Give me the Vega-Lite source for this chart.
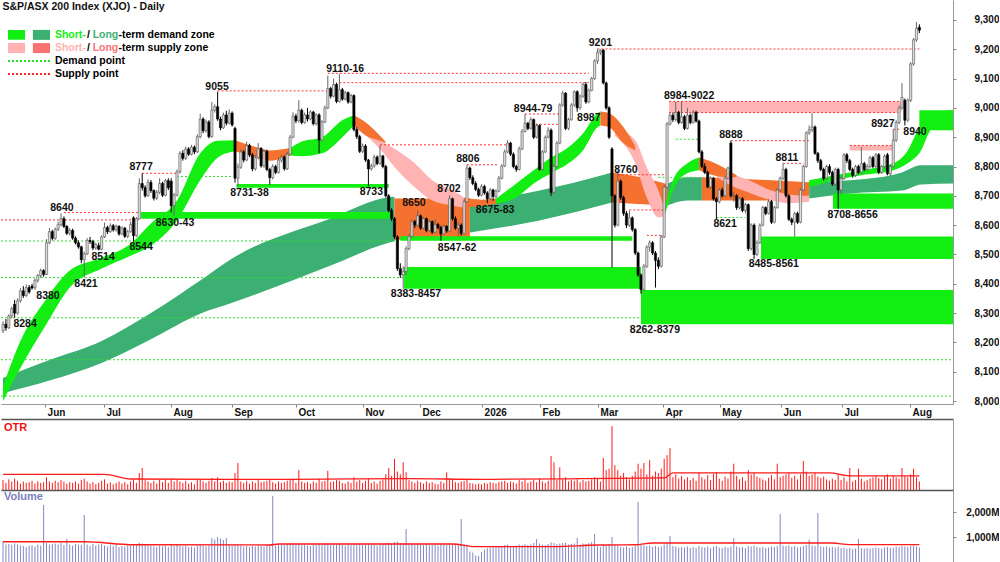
{
  "$schema": "https://vega.github.io/schema/vega-lite/v6.json",
  "padding": 0,
  "autosize": {"type": "pad"},
  "background": "white",
  "config": {
    "font": "Liberation Sans",
    "view": {"stroke": null},
    "scale": {"continuousPadding": 0},
    "axis": {"labelFont": "Liberation Sans", "labelFontWeight": "bold", "labelFontSize": 10, "labelColor": "#111", "grid": false, "title": null, "domainColor": "#888", "tickColor": "#888", "labelOverlap": false, "labelBound": false, "labelFlush": false}
  },
  "datasets": {
    "bars": [
      {"i":0,"o":8240,"h":8272,"l":8232,"c":8262,"r":14,"v":820},
      {"i":1,"o":8262,"h":8280,"l":8240,"c":8250,"r":10,"v":700},
      {"i":2,"o":8250,"h":8296,"l":8246,"c":8290,"r":15,"v":720},
      {"i":3,"o":8290,"h":8322,"l":8282,"c":8315,"r":12,"v":690},
      {"i":4,"o":8330,"h":8345,"l":8284,"c":8300,"r":16,"v":740},
      {"i":5,"o":8300,"h":8350,"l":8295,"c":8342,"r":13,"v":700},
      {"i":6,"o":8342,"h":8385,"l":8336,"c":8376,"r":9,"v":660},
      {"i":7,"o":8376,"h":8392,"l":8352,"c":8360,"r":12,"v":640},
      {"i":8,"o":8360,"h":8398,"l":8355,"c":8387,"r":10,"v":600},
      {"i":9,"o":8387,"h":8396,"l":8366,"c":8372,"r":11,"v":650},
      {"i":10,"o":8392,"h":8400,"l":8380,"c":8386,"r":13,"v":680},
      {"i":11,"o":8386,"h":8418,"l":8380,"c":8412,"r":9,"v":620},
      {"i":12,"o":8412,"h":8434,"l":8404,"c":8428,"r":12,"v":700},
      {"i":13,"o":8428,"h":8452,"l":8420,"c":8445,"r":10,"v":660},
      {"i":14,"o":8445,"h":8450,"l":8424,"c":8432,"r":11,"v":2280},
      {"i":15,"o":8432,"h":8552,"l":8430,"c":8540,"r":18,"v":760},
      {"i":16,"o":8540,"h":8590,"l":8535,"c":8578,"r":12,"v":700},
      {"i":17,"o":8578,"h":8584,"l":8548,"c":8555,"r":10,"v":720},
      {"i":18,"o":8555,"h":8592,"l":8550,"c":8586,"r":13,"v":740},
      {"i":19,"o":8586,"h":8612,"l":8580,"c":8602,"r":11,"v":700},
      {"i":20,"o":8602,"h":8640,"l":8596,"c":8622,"r":14,"v":760},
      {"i":21,"o":8622,"h":8630,"l":8590,"c":8596,"r":12,"v":680},
      {"i":22,"o":8596,"h":8600,"l":8566,"c":8572,"r":9,"v":920},
      {"i":23,"o":8572,"h":8590,"l":8564,"c":8582,"r":11,"v":700},
      {"i":24,"o":8582,"h":8588,"l":8550,"c":8556,"r":10,"v":660},
      {"i":25,"o":8556,"h":8562,"l":8534,"c":8540,"r":12,"v":720},
      {"i":26,"o":8540,"h":8548,"l":8520,"c":8526,"r":9,"v":700},
      {"i":27,"o":8526,"h":8530,"l":8470,"c":8482,"r":14,"v":680},
      {"i":28,"o":8482,"h":8510,"l":8421,"c":8502,"r":16,"v":1880},
      {"i":29,"o":8502,"h":8556,"l":8498,"c":8548,"r":12,"v":700},
      {"i":30,"o":8548,"h":8560,"l":8536,"c":8544,"r":9,"v":640},
      {"i":31,"o":8544,"h":8550,"l":8515,"c":8522,"r":11,"v":720},
      {"i":32,"o":8522,"h":8540,"l":8516,"c":8534,"r":8,"v":660},
      {"i":33,"o":8530,"h":8540,"l":8514,"c":8518,"r":10,"v":700},
      {"i":34,"o":8518,"h":8566,"l":8514,"c":8560,"r":13,"v":720},
      {"i":35,"o":8560,"h":8609,"l":8556,"c":8592,"r":15,"v":660},
      {"i":36,"o":8592,"h":8598,"l":8570,"c":8578,"r":9,"v":620},
      {"i":37,"o":8578,"h":8606,"l":8574,"c":8598,"r":11,"v":700},
      {"i":38,"o":8598,"h":8604,"l":8578,"c":8584,"r":8,"v":640},
      {"i":39,"o":8584,"h":8602,"l":8578,"c":8596,"r":10,"v":680},
      {"i":40,"o":8596,"h":8600,"l":8564,"c":8570,"r":12,"v":600},
      {"i":41,"o":8570,"h":8596,"l":8566,"c":8590,"r":9,"v":640},
      {"i":42,"o":8590,"h":8594,"l":8556,"c":8562,"r":11,"v":620},
      {"i":43,"o":8562,"h":8584,"l":8556,"c":8578,"r":8,"v":660},
      {"i":44,"o":8578,"h":8612,"l":8574,"c":8602,"r":12,"v":640},
      {"i":45,"o":8625,"h":8630,"l":8544,"c":8564,"r":14,"v":700},
      {"i":46,"o":8564,"h":8628,"l":8560,"c":8622,"r":10,"v":680},
      {"i":47,"o":8622,"h":8760,"l":8620,"c":8742,"r":24,"v":760},
      {"i":48,"o":8742,"h":8777,"l":8718,"c":8728,"r":31,"v":740},
      {"i":49,"o":8728,"h":8736,"l":8694,"c":8700,"r":14,"v":700},
      {"i":50,"o":8700,"h":8756,"l":8696,"c":8746,"r":12,"v":660},
      {"i":51,"o":8746,"h":8754,"l":8710,"c":8718,"r":10,"v":640},
      {"i":52,"o":8718,"h":8722,"l":8684,"c":8692,"r":13,"v":620},
      {"i":53,"o":8692,"h":8720,"l":8686,"c":8712,"r":9,"v":600},
      {"i":54,"o":8712,"h":8760,"l":8706,"c":8742,"r":15,"v":640},
      {"i":55,"o":8742,"h":8748,"l":8696,"c":8702,"r":11,"v":620},
      {"i":56,"o":8702,"h":8758,"l":8698,"c":8752,"r":14,"v":660},
      {"i":57,"o":8752,"h":8760,"l":8720,"c":8728,"r":10,"v":600},
      {"i":58,"o":8750,"h":8760,"l":8643,"c":8666,"r":16,"v":680},
      {"i":59,"o":8666,"h":8710,"l":8630,"c":8702,"r":12,"v":640},
      {"i":60,"o":8702,"h":8790,"l":8698,"c":8782,"r":15,"v":700},
      {"i":61,"o":8782,"h":8852,"l":8776,"c":8845,"r":12,"v":660},
      {"i":62,"o":8845,"h":8856,"l":8820,"c":8828,"r":10,"v":620},
      {"i":63,"o":8828,"h":8868,"l":8822,"c":8860,"r":13,"v":640},
      {"i":64,"o":8860,"h":8866,"l":8836,"c":8842,"r":9,"v":600},
      {"i":65,"o":8842,"h":8874,"l":8838,"c":8866,"r":11,"v":620},
      {"i":66,"o":8866,"h":8872,"l":8842,"c":8850,"r":8,"v":580},
      {"i":67,"o":8850,"h":8910,"l":8846,"c":8902,"r":14,"v":640},
      {"i":68,"o":8902,"h":8980,"l":8896,"c":8962,"r":15,"v":680},
      {"i":69,"o":8962,"h":8968,"l":8914,"c":8922,"r":12,"v":640},
      {"i":70,"o":8922,"h":8960,"l":8916,"c":8952,"r":10,"v":620},
      {"i":71,"o":8952,"h":8958,"l":8896,"c":8902,"r":13,"v":660},
      {"i":72,"o":8902,"h":9020,"l":8898,"c":8992,"r":17,"v":960},
      {"i":73,"o":8992,"h":9012,"l":8984,"c":9004,"r":12,"v":900},
      {"i":74,"o":9004,"h":9055,"l":8956,"c":8962,"r":18,"v":1000},
      {"i":75,"o":8962,"h":8970,"l":8924,"c":8932,"r":11,"v":940},
      {"i":76,"o":8932,"h":8984,"l":8928,"c":8976,"r":13,"v":880},
      {"i":77,"o":8976,"h":8990,"l":8940,"c":8948,"r":10,"v":960},
      {"i":78,"o":8948,"h":8995,"l":8944,"c":8982,"r":12,"v":700},
      {"i":79,"o":8982,"h":8988,"l":8936,"c":8942,"r":11,"v":660},
      {"i":80,"o":8930,"h":8936,"l":8745,"c":8760,"r":24,"v":720},
      {"i":81,"o":8760,"h":8810,"l":8731,"c":8798,"r":38,"v":700},
      {"i":82,"o":8798,"h":8858,"l":8792,"c":8850,"r":12,"v":660},
      {"i":83,"o":8850,"h":8856,"l":8814,"c":8822,"r":10,"v":620},
      {"i":84,"o":8822,"h":8885,"l":8818,"c":8872,"r":13,"v":640},
      {"i":85,"o":8872,"h":8878,"l":8832,"c":8840,"r":9,"v":600},
      {"i":86,"o":8840,"h":8846,"l":8784,"c":8792,"r":12,"v":640},
      {"i":87,"o":8792,"h":8838,"l":8786,"c":8830,"r":10,"v":620},
      {"i":88,"o":8830,"h":8880,"l":8824,"c":8862,"r":14,"v":660},
      {"i":89,"o":8862,"h":8866,"l":8796,"c":8802,"r":11,"v":640},
      {"i":90,"o":8802,"h":8858,"l":8796,"c":8852,"r":12,"v":620},
      {"i":91,"o":8852,"h":8858,"l":8784,"c":8790,"r":13,"v":680},
      {"i":92,"o":8790,"h":8796,"l":8738,"c":8762,"r":15,"v":700},
      {"i":93,"o":8762,"h":8808,"l":8756,"c":8800,"r":11,"v":2640},
      {"i":94,"o":8800,"h":8806,"l":8774,"c":8780,"r":9,"v":660},
      {"i":95,"o":8780,"h":8830,"l":8776,"c":8822,"r":12,"v":720},
      {"i":96,"o":8822,"h":8840,"l":8814,"c":8832,"r":10,"v":700},
      {"i":97,"o":8832,"h":8838,"l":8786,"c":8792,"r":11,"v":680},
      {"i":98,"o":8792,"h":8850,"l":8788,"c":8842,"r":13,"v":720},
      {"i":99,"o":8842,"h":8908,"l":8838,"c":8900,"r":14,"v":740},
      {"i":100,"o":8900,"h":8985,"l":8896,"c":8972,"r":16,"v":760},
      {"i":101,"o":8972,"h":8980,"l":8948,"c":8956,"r":10,"v":700},
      {"i":102,"o":8956,"h":9026,"l":8950,"c":8992,"r":28,"v":720},
      {"i":103,"o":8992,"h":8998,"l":8944,"c":8950,"r":12,"v":680},
      {"i":104,"o":8950,"h":8984,"l":8946,"c":8976,"r":10,"v":700},
      {"i":105,"o":8976,"h":9000,"l":8954,"c":8962,"r":11,"v":660},
      {"i":106,"o":8962,"h":8992,"l":8958,"c":8986,"r":9,"v":640},
      {"i":107,"o":8986,"h":8990,"l":8940,"c":8946,"r":12,"v":700},
      {"i":108,"o":8946,"h":8982,"l":8940,"c":8976,"r":10,"v":680},
      {"i":109,"o":8976,"h":8982,"l":8845,"c":8890,"r":16,"v":740},
      {"i":110,"o":8890,"h":8958,"l":8884,"c":8952,"r":12,"v":700},
      {"i":111,"o":8952,"h":9008,"l":8948,"c":9000,"r":13,"v":720},
      {"i":112,"o":9000,"h":9110,"l":8996,"c":9066,"r":27,"v":760},
      {"i":113,"o":9066,"h":9072,"l":9032,"c":9040,"r":11,"v":700},
      {"i":114,"o":9040,"h":9100,"l":9036,"c":9080,"r":12,"v":680},
      {"i":115,"o":9080,"h":9086,"l":9016,"c":9022,"r":14,"v":700},
      {"i":116,"o":9022,"h":9116,"l":9018,"c":9062,"r":13,"v":720},
      {"i":117,"o":9062,"h":9068,"l":9024,"c":9030,"r":10,"v":680},
      {"i":118,"o":9030,"h":9058,"l":9026,"c":9052,"r":9,"v":660},
      {"i":119,"o":9052,"h":9056,"l":9014,"c":9020,"r":12,"v":700},
      {"i":120,"o":9020,"h":9048,"l":9016,"c":9042,"r":10,"v":680},
      {"i":121,"o":9042,"h":9046,"l":8920,"c":8926,"r":18,"v":740},
      {"i":122,"o":8926,"h":8934,"l":8894,"c":8902,"r":12,"v":700},
      {"i":123,"o":8902,"h":8908,"l":8846,"c":8852,"r":14,"v":720},
      {"i":124,"o":8852,"h":8878,"l":8846,"c":8870,"r":10,"v":680},
      {"i":125,"o":8870,"h":8876,"l":8816,"c":8822,"r":13,"v":700},
      {"i":126,"o":8822,"h":8826,"l":8733,"c":8792,"r":16,"v":740},
      {"i":127,"o":8792,"h":8810,"l":8786,"c":8802,"r":10,"v":680},
      {"i":128,"o":8802,"h":8840,"l":8796,"c":8832,"r":12,"v":700},
      {"i":129,"o":8832,"h":8838,"l":8804,"c":8810,"r":9,"v":660},
      {"i":130,"o":8810,"h":8872,"l":8806,"c":8836,"r":13,"v":700},
      {"i":131,"o":8836,"h":8840,"l":8794,"c":8800,"r":15,"v":720},
      {"i":132,"o":8800,"h":8806,"l":8694,"c":8700,"r":22,"v":760},
      {"i":133,"o":8700,"h":8706,"l":8644,"c":8650,"r":31,"v":780},
      {"i":134,"o":8650,"h":8658,"l":8614,"c":8622,"r":20,"v":740},
      {"i":135,"o":8622,"h":8628,"l":8552,"c":8560,"r":44,"v":800},
      {"i":136,"o":8560,"h":8566,"l":8444,"c":8452,"r":26,"v":820},
      {"i":137,"o":8452,"h":8470,"l":8420,"c":8430,"r":22,"v":760},
      {"i":138,"o":8430,"h":8460,"l":8383,"c":8442,"r":39,"v":740},
      {"i":139,"o":8442,"h":8528,"l":8430,"c":8520,"r":25,"v":1320},
      {"i":140,"o":8520,"h":8570,"l":8514,"c":8562,"r":14,"v":760},
      {"i":141,"o":8562,"h":8620,"l":8556,"c":8612,"r":12,"v":720},
      {"i":142,"o":8612,"h":8618,"l":8590,"c":8600,"r":10,"v":700},
      {"i":143,"o":8600,"h":8650,"l":8596,"c":8632,"r":13,"v":740},
      {"i":144,"o":8632,"h":8636,"l":8584,"c":8590,"r":11,"v":700},
      {"i":145,"o":8590,"h":8628,"l":8586,"c":8622,"r":9,"v":680},
      {"i":146,"o":8622,"h":8626,"l":8576,"c":8582,"r":12,"v":720},
      {"i":147,"o":8582,"h":8618,"l":8578,"c":8612,"r":10,"v":700},
      {"i":148,"o":8612,"h":8616,"l":8570,"c":8576,"r":11,"v":680},
      {"i":149,"o":8576,"h":8620,"l":8572,"c":8602,"r":9,"v":700},
      {"i":150,"o":8602,"h":8608,"l":8586,"c":8592,"r":8,"v":660},
      {"i":151,"o":8592,"h":8598,"l":8547,"c":8570,"r":12,"v":720},
      {"i":152,"o":8570,"h":8602,"l":8566,"c":8596,"r":10,"v":700},
      {"i":153,"o":8596,"h":8600,"l":8574,"c":8580,"r":25,"v":680},
      {"i":154,"o":8580,"h":8702,"l":8576,"c":8690,"r":16,"v":740},
      {"i":155,"o":8690,"h":8694,"l":8616,"c":8622,"r":14,"v":720},
      {"i":156,"o":8622,"h":8630,"l":8584,"c":8590,"r":11,"v":700},
      {"i":157,"o":8590,"h":8610,"l":8562,"c":8600,"r":10,"v":680},
      {"i":158,"o":8600,"h":8606,"l":8564,"c":8572,"r":12,"v":1720},
      {"i":159,"o":8572,"h":8688,"l":8568,"c":8680,"r":13,"v":720},
      {"i":160,"o":8680,"h":8806,"l":8676,"c":8795,"r":15,"v":700},
      {"i":161,"o":8795,"h":8800,"l":8754,"c":8762,"r":10,"v":420},
      {"i":162,"o":8762,"h":8770,"l":8736,"c":8742,"r":9,"v":380},
      {"i":163,"o":8742,"h":8750,"l":8716,"c":8722,"r":8,"v":260},
      {"i":164,"o":8722,"h":8728,"l":8696,"c":8702,"r":9,"v":240},
      {"i":165,"o":8702,"h":8740,"l":8698,"c":8732,"r":8,"v":400},
      {"i":166,"o":8732,"h":8738,"l":8704,"c":8710,"r":10,"v":500},
      {"i":167,"o":8710,"h":8716,"l":8675,"c":8690,"r":9,"v":560},
      {"i":168,"o":8690,"h":8726,"l":8686,"c":8720,"r":11,"v":580},
      {"i":169,"o":8720,"h":8724,"l":8683,"c":8698,"r":10,"v":600},
      {"i":170,"o":8698,"h":8722,"l":8692,"c":8716,"r":9,"v":620},
      {"i":171,"o":8716,"h":8768,"l":8712,"c":8760,"r":11,"v":600},
      {"i":172,"o":8760,"h":8808,"l":8756,"c":8802,"r":12,"v":640},
      {"i":173,"o":8802,"h":8858,"l":8798,"c":8850,"r":13,"v":680},
      {"i":174,"o":8850,"h":8890,"l":8846,"c":8880,"r":10,"v":700},
      {"i":175,"o":8880,"h":8884,"l":8836,"c":8842,"r":12,"v":640},
      {"i":176,"o":8842,"h":8848,"l":8794,"c":8800,"r":11,"v":620},
      {"i":177,"o":8800,"h":8806,"l":8782,"c":8790,"r":9,"v":660},
      {"i":178,"o":8790,"h":8868,"l":8786,"c":8860,"r":14,"v":700},
      {"i":179,"o":8860,"h":8928,"l":8856,"c":8920,"r":12,"v":680},
      {"i":180,"o":8920,"h":8979,"l":8916,"c":8948,"r":15,"v":720},
      {"i":181,"o":8948,"h":8952,"l":8924,"c":8930,"r":10,"v":680},
      {"i":182,"o":8930,"h":8968,"l":8926,"c":8960,"r":12,"v":700},
      {"i":183,"o":8960,"h":8964,"l":8894,"c":8900,"r":14,"v":760},
      {"i":184,"o":8900,"h":8946,"l":8896,"c":8940,"r":11,"v":920},
      {"i":185,"o":8940,"h":8944,"l":8786,"c":8790,"r":16,"v":740},
      {"i":186,"o":8790,"h":8856,"l":8786,"c":8850,"r":12,"v":700},
      {"i":187,"o":8850,"h":8906,"l":8846,"c":8900,"r":10,"v":680},
      {"i":188,"o":8900,"h":8934,"l":8896,"c":8924,"r":13,"v":720},
      {"i":189,"o":8924,"h":8930,"l":8700,"c":8712,"r":48,"v":780},
      {"i":190,"o":8712,"h":8806,"l":8706,"c":8800,"r":39,"v":760},
      {"i":191,"o":8800,"h":8886,"l":8796,"c":8880,"r":14,"v":720},
      {"i":192,"o":8880,"h":9016,"l":8876,"c":9010,"r":32,"v":740},
      {"i":193,"o":9010,"h":9058,"l":9004,"c":9050,"r":15,"v":760},
      {"i":194,"o":9050,"h":9054,"l":8924,"c":8930,"r":18,"v":780},
      {"i":195,"o":8930,"h":8966,"l":8924,"c":8960,"r":12,"v":700},
      {"i":196,"o":8960,"h":9016,"l":8956,"c":9010,"r":14,"v":720},
      {"i":197,"o":9010,"h":9060,"l":9004,"c":9055,"r":13,"v":740},
      {"i":198,"o":9055,"h":9060,"l":8987,"c":9000,"r":15,"v":960},
      {"i":199,"o":9000,"h":9046,"l":8994,"c":9040,"r":11,"v":700},
      {"i":200,"o":9040,"h":9086,"l":9034,"c":9080,"r":14,"v":740},
      {"i":201,"o":9080,"h":9088,"l":9014,"c":9020,"r":12,"v":720},
      {"i":202,"o":9020,"h":9066,"l":9016,"c":9060,"r":13,"v":760},
      {"i":203,"o":9060,"h":9106,"l":9056,"c":9100,"r":15,"v":800},
      {"i":204,"o":9100,"h":9166,"l":9096,"c":9160,"r":18,"v":1120},
      {"i":205,"o":9160,"h":9201,"l":9150,"c":9190,"r":16,"v":640},
      {"i":206,"o":9190,"h":9200,"l":9180,"c":9196,"r":12,"v":600},
      {"i":207,"o":9197,"h":9200,"l":9080,"c":9085,"r":45,"v":700},
      {"i":208,"o":9085,"h":9090,"l":8994,"c":9000,"r":28,"v":680},
      {"i":209,"o":9000,"h":9006,"l":8894,"c":8900,"r":30,"v":720},
      {"i":210,"o":8860,"h":8866,"l":8455,"c":8700,"r":90,"v":1000},
      {"i":211,"o":8700,"h":8706,"l":8592,"c":8600,"r":35,"v":700},
      {"i":212,"o":8600,"h":8787,"l":8596,"c":8750,"r":28,"v":660},
      {"i":213,"o":8750,"h":8756,"l":8686,"c":8694,"r":20,"v":600},
      {"i":214,"o":8694,"h":8700,"l":8632,"c":8640,"r":24,"v":580},
      {"i":215,"o":8640,"h":8648,"l":8590,"c":8600,"r":18,"v":620},
      {"i":216,"o":8600,"h":8650,"l":8594,"c":8625,"r":15,"v":560},
      {"i":217,"o":8625,"h":8630,"l":8578,"c":8585,"r":20,"v":600},
      {"i":218,"o":8585,"h":8590,"l":8498,"c":8505,"r":26,"v":640},
      {"i":219,"o":8505,"h":8510,"l":8424,"c":8430,"r":37,"v":2400},
      {"i":220,"o":8430,"h":8436,"l":8366,"c":8380,"r":30,"v":700},
      {"i":221,"o":8380,"h":8468,"l":8376,"c":8460,"r":38,"v":680},
      {"i":222,"o":8460,"h":8532,"l":8454,"c":8525,"r":22,"v":640},
      {"i":223,"o":8525,"h":8548,"l":8510,"c":8540,"r":42,"v":660},
      {"i":224,"o":8540,"h":8546,"l":8498,"c":8505,"r":20,"v":600},
      {"i":225,"o":8505,"h":8512,"l":8387,"c":8480,"r":26,"v":640},
      {"i":226,"o":8480,"h":8490,"l":8450,"c":8460,"r":24,"v":600},
      {"i":227,"o":8460,"h":8566,"l":8455,"c":8560,"r":30,"v":620},
      {"i":228,"o":8560,"h":8736,"l":8556,"c":8730,"r":44,"v":700},
      {"i":229,"o":8730,"h":8952,"l":8726,"c":8945,"r":49,"v":760},
      {"i":230,"o":8945,"h":8982,"l":8940,"c":8975,"r":59,"v":1040},
      {"i":231,"o":8975,"h":8984,"l":8952,"c":8960,"r":18,"v":640},
      {"i":232,"o":8960,"h":9020,"l":8954,"c":8985,"r":22,"v":620},
      {"i":233,"o":8985,"h":8990,"l":8944,"c":8950,"r":16,"v":580},
      {"i":234,"o":8950,"h":9022,"l":8946,"c":8970,"r":20,"v":600},
      {"i":235,"o":8970,"h":8976,"l":8924,"c":8930,"r":15,"v":580},
      {"i":236,"o":8930,"h":9000,"l":8926,"c":8975,"r":18,"v":620},
      {"i":237,"o":8975,"h":8980,"l":8944,"c":8950,"r":14,"v":560},
      {"i":238,"o":8950,"h":8992,"l":8946,"c":8985,"r":17,"v":600},
      {"i":239,"o":8985,"h":8990,"l":8950,"c":8955,"r":13,"v":560},
      {"i":240,"o":8955,"h":8960,"l":8845,"c":8850,"r":24,"v":640},
      {"i":241,"o":8850,"h":8856,"l":8794,"c":8800,"r":18,"v":600},
      {"i":242,"o":8800,"h":8811,"l":8774,"c":8780,"r":15,"v":580},
      {"i":243,"o":8780,"h":8786,"l":8726,"c":8730,"r":21,"v":620},
      {"i":244,"o":8730,"h":8766,"l":8724,"c":8760,"r":14,"v":560},
      {"i":245,"o":8760,"h":8764,"l":8684,"c":8690,"r":23,"v":620},
      {"i":246,"o":8690,"h":8696,"l":8621,"c":8680,"r":25,"v":640},
      {"i":247,"o":8680,"h":8726,"l":8674,"c":8720,"r":16,"v":580},
      {"i":248,"o":8720,"h":8728,"l":8694,"c":8700,"r":13,"v":560},
      {"i":249,"o":8700,"h":8766,"l":8696,"c":8760,"r":19,"v":600},
      {"i":250,"o":8760,"h":8800,"l":8756,"c":8795,"r":16,"v":580},
      {"i":251,"o":8880,"h":8888,"l":8694,"c":8700,"r":26,"v":620},
      {"i":252,"o":8700,"h":8712,"l":8680,"c":8700,"r":37,"v":960},
      {"i":253,"o":8700,"h":8706,"l":8652,"c":8660,"r":20,"v":620},
      {"i":254,"o":8660,"h":8696,"l":8654,"c":8690,"r":15,"v":580},
      {"i":255,"o":8690,"h":8696,"l":8644,"c":8650,"r":18,"v":600},
      {"i":256,"o":8650,"h":8676,"l":8640,"c":8670,"r":13,"v":560},
      {"i":257,"o":8670,"h":8674,"l":8512,"c":8520,"r":28,"v":640},
      {"i":258,"o":8520,"h":8606,"l":8514,"c":8600,"r":22,"v":620},
      {"i":259,"o":8600,"h":8606,"l":8485,"c":8500,"r":24,"v":660},
      {"i":260,"o":8500,"h":8548,"l":8494,"c":8540,"r":19,"v":600},
      {"i":261,"o":8540,"h":8606,"l":8536,"c":8600,"r":17,"v":580},
      {"i":262,"o":8600,"h":8666,"l":8596,"c":8660,"r":15,"v":600},
      {"i":263,"o":8660,"h":8664,"l":8634,"c":8640,"r":13,"v":560},
      {"i":264,"o":8640,"h":8688,"l":8636,"c":8680,"r":17,"v":580},
      {"i":265,"o":8680,"h":8686,"l":8604,"c":8610,"r":21,"v":620},
      {"i":266,"o":8610,"h":8666,"l":8606,"c":8660,"r":15,"v":600},
      {"i":267,"o":8660,"h":8726,"l":8656,"c":8720,"r":37,"v":640},
      {"i":268,"o":8720,"h":8766,"l":8714,"c":8760,"r":18,"v":1920},
      {"i":269,"o":8760,"h":8811,"l":8754,"c":8790,"r":20,"v":660},
      {"i":270,"o":8790,"h":8796,"l":8694,"c":8700,"r":22,"v":640},
      {"i":271,"o":8700,"h":8706,"l":8614,"c":8620,"r":24,"v":660},
      {"i":272,"o":8620,"h":8626,"l":8600,"c":8610,"r":17,"v":600},
      {"i":273,"o":8610,"h":8646,"l":8561,"c":8640,"r":20,"v":640},
      {"i":274,"o":8640,"h":8646,"l":8604,"c":8610,"r":15,"v":580},
      {"i":275,"o":8610,"h":8726,"l":8606,"c":8720,"r":22,"v":600},
      {"i":276,"o":8720,"h":8806,"l":8716,"c":8800,"r":41,"v":640},
      {"i":277,"o":8800,"h":8920,"l":8796,"c":8915,"r":26,"v":680},
      {"i":278,"o":8915,"h":8940,"l":8908,"c":8925,"r":20,"v":900},
      {"i":279,"o":8925,"h":8982,"l":8918,"c":8935,"r":22,"v":660},
      {"i":280,"o":8935,"h":8940,"l":8840,"c":8845,"r":24,"v":640},
      {"i":281,"o":8845,"h":8850,"l":8812,"c":8820,"r":19,"v":1960},
      {"i":282,"o":8820,"h":8826,"l":8784,"c":8790,"r":17,"v":620},
      {"i":283,"o":8790,"h":8796,"l":8752,"c":8760,"r":19,"v":600},
      {"i":284,"o":8760,"h":8806,"l":8754,"c":8800,"r":15,"v":620},
      {"i":285,"o":8800,"h":8808,"l":8772,"c":8780,"r":13,"v":580},
      {"i":286,"o":8780,"h":8786,"l":8734,"c":8740,"r":16,"v":600},
      {"i":287,"o":8740,"h":8796,"l":8734,"c":8790,"r":14,"v":580},
      {"i":288,"o":8790,"h":8796,"l":8656,"c":8720,"r":22,"v":620},
      {"i":289,"o":8720,"h":8766,"l":8706,"c":8760,"r":14,"v":560},
      {"i":290,"o":8760,"h":8846,"l":8754,"c":8840,"r":18,"v":580},
      {"i":291,"o":8840,"h":8846,"l":8812,"c":8820,"r":12,"v":540},
      {"i":292,"o":8820,"h":8826,"l":8784,"c":8790,"r":31,"v":560},
      {"i":293,"o":8790,"h":8796,"l":8762,"c":8770,"r":12,"v":520},
      {"i":294,"o":8770,"h":8806,"l":8764,"c":8800,"r":14,"v":540},
      {"i":295,"o":8800,"h":8806,"l":8774,"c":8780,"r":30,"v":920},
      {"i":296,"o":8780,"h":8866,"l":8776,"c":8810,"r":16,"v":560},
      {"i":297,"o":8810,"h":8816,"l":8784,"c":8790,"r":12,"v":540},
      {"i":298,"o":8790,"h":8808,"l":8784,"c":8800,"r":14,"v":560},
      {"i":299,"o":8800,"h":8836,"l":8794,"c":8830,"r":16,"v":540},
      {"i":300,"o":8830,"h":8836,"l":8794,"c":8800,"r":18,"v":560},
      {"i":301,"o":8800,"h":8846,"l":8794,"c":8840,"r":20,"v":580},
      {"i":302,"o":8840,"h":8846,"l":8774,"c":8780,"r":17,"v":560},
      {"i":303,"o":8780,"h":8806,"l":8774,"c":8800,"r":15,"v":540},
      {"i":304,"o":8800,"h":8842,"l":8794,"c":8835,"r":19,"v":580},
      {"i":305,"o":8840,"h":8846,"l":8770,"c":8775,"r":22,"v":600},
      {"i":306,"o":8775,"h":8806,"l":8768,"c":8800,"r":16,"v":560},
      {"i":307,"o":8800,"h":8927,"l":8796,"c":8890,"r":20,"v":580},
      {"i":308,"o":8890,"h":8958,"l":8884,"c":8950,"r":18,"v":620},
      {"i":309,"o":8950,"h":9008,"l":8944,"c":9000,"r":16,"v":600},
      {"i":310,"o":9000,"h":9084,"l":8994,"c":9036,"r":31,"v":640},
      {"i":311,"o":9026,"h":9032,"l":8940,"c":8958,"r":20,"v":620},
      {"i":312,"o":8958,"h":9032,"l":8952,"c":9026,"r":18,"v":600},
      {"i":313,"o":9026,"h":9156,"l":9020,"c":9150,"r":22,"v":640},
      {"i":314,"o":9150,"h":9238,"l":9144,"c":9232,"r":30,"v":660},
      {"i":315,"o":9232,"h":9293,"l":9226,"c":9272,"r":18,"v":620},
      {"i":316,"o":9275,"h":9285,"l":9255,"c":9265,"r":12,"v":580}
    ],
    "lt": [
      {"s":1,"k":"ld","i":0,"lo":8027,"hi":8079},
      {"s":1,"k":"ld","i":16,"lo":8070,"hi":8140},
      {"s":1,"k":"ld","i":34,"lo":8130,"hi":8205},
      {"s":1,"k":"ld","i":51,"lo":8211,"hi":8300},
      {"s":1,"k":"ld","i":68,"lo":8298,"hi":8411},
      {"s":1,"k":"ld","i":79,"lo":8335,"hi":8486},
      {"s":1,"k":"ld","i":113,"lo":8462,"hi":8623},
      {"s":1,"k":"ld","i":133,"lo":8540,"hi":8695},
      {"s":1,"k":"ld","i":135,"lo":8545,"hi":8697},
      {"s":2,"k":"or","i":135,"lo":8550,"hi":8691},
      {"s":2,"k":"or","i":161,"lo":8550,"hi":8691},
      {"s":3,"k":"ld","i":161,"lo":8575,"hi":8677},
      {"s":3,"k":"ld","i":185,"lo":8616,"hi":8718},
      {"s":3,"k":"ld","i":210,"lo":8677,"hi":8780},
      {"s":4,"k":"or","i":210,"lo":8677,"hi":8780},
      {"s":4,"k":"or","i":219,"lo":8672,"hi":8765},
      {"s":4,"k":"or","i":229,"lo":8667,"hi":8740},
      {"s":5,"k":"ld","i":229,"lo":8667,"hi":8740},
      {"s":5,"k":"ld","i":236,"lo":8684,"hi":8763},
      {"s":5,"k":"ld","i":241,"lo":8684,"hi":8763},
      {"s":6,"k":"or","i":241,"lo":8684,"hi":8763},
      {"s":6,"k":"or","i":265,"lo":8684,"hi":8753},
      {"s":6,"k":"or","i":278,"lo":8691,"hi":8746},
      {"s":7,"k":"ld","i":278,"lo":8691,"hi":8746},
      {"s":7,"k":"ld","i":292,"lo":8708,"hi":8753},
      {"s":7,"k":"ld","i":310,"lo":8718,"hi":8780},
      {"s":7,"k":"ld","i":316.6,"lo":8739,"hi":8804},
      {"s":7,"k":"ld","i":327.6,"lo":8742,"hi":8804}
    ],
    "st": [
      {"s":1,"k":"sd","i":0,"lo":8000,"hi":8050},
      {"s":1,"k":"sd","i":6,"lo":8113,"hi":8205},
      {"s":1,"k":"sd","i":15,"lo":8263,"hi":8349},
      {"s":1,"k":"sd","i":23,"lo":8387,"hi":8445},
      {"s":1,"k":"sd","i":34,"lo":8452,"hi":8489},
      {"s":1,"k":"sd","i":44,"lo":8496,"hi":8537},
      {"s":1,"k":"sd","i":51,"lo":8530,"hi":8606},
      {"s":1,"k":"sd","i":60,"lo":8616,"hi":8684},
      {"s":1,"k":"sd","i":68,"lo":8753,"hi":8845},
      {"s":1,"k":"sd","i":74,"lo":8830,"hi":8888},
      {"s":1,"k":"sd","i":80,"lo":8852,"hi":8890},
      {"s":2,"k":"or","i":80,"lo":8852,"hi":8890},
      {"s":2,"k":"or","i":86,"lo":8835,"hi":8870},
      {"s":2,"k":"or","i":92,"lo":8820,"hi":8855},
      {"s":2,"k":"or","i":97,"lo":8830,"hi":8860},
      {"s":2,"k":"or","i":99,"lo":8838,"hi":8862},
      {"s":3,"k":"sd","i":99,"lo":8838,"hi":8862},
      {"s":3,"k":"sd","i":103,"lo":8835,"hi":8885},
      {"s":3,"k":"sd","i":110,"lo":8845,"hi":8900},
      {"s":3,"k":"sd","i":117,"lo":8900,"hi":8958},
      {"s":3,"k":"sd","i":121,"lo":8941,"hi":8975},
      {"s":4,"k":"ss","i":123,"lo":8925,"hi":8940},
      {"s":4,"k":"ss","i":130,"lo":8860,"hi":8890},
      {"s":4,"k":"ss","i":136,"lo":8787,"hi":8855},
      {"s":4,"k":"ss","i":142,"lo":8729,"hi":8811},
      {"s":4,"k":"ss","i":148,"lo":8684,"hi":8753},
      {"s":4,"k":"ss","i":155,"lo":8667,"hi":8718},
      {"s":4,"k":"ss","i":159,"lo":8660,"hi":8694},
      {"s":4,"k":"ss","i":161,"lo":8668,"hi":8680},
      {"s":5,"k":"or","i":121,"lo":8941,"hi":8975},
      {"s":5,"k":"or","i":125,"lo":8907,"hi":8951},
      {"s":5,"k":"or","i":130,"lo":8888,"hi":8905},
      {"s":5,"k":"or","i":132,"lo":8880,"hi":8884},
      {"s":6,"k":"or","i":159,"lo":8660,"hi":8694},
      {"s":6,"k":"or","i":165,"lo":8665,"hi":8687},
      {"s":6,"k":"or","i":170,"lo":8674,"hi":8690},
      {"s":7,"k":"sd","i":170,"lo":8674,"hi":8690},
      {"s":7,"k":"sd","i":177,"lo":8694,"hi":8742},
      {"s":7,"k":"sd","i":183,"lo":8742,"hi":8787},
      {"s":7,"k":"sd","i":189,"lo":8777,"hi":8831},
      {"s":7,"k":"sd","i":195,"lo":8811,"hi":8866},
      {"s":7,"k":"sd","i":200,"lo":8855,"hi":8913},
      {"s":7,"k":"sd","i":205,"lo":8934,"hi":8982},
      {"s":7,"k":"sd","i":206,"lo":8940,"hi":8988},
      {"s":8,"k":"ss","i":211,"lo":8905,"hi":8930},
      {"s":8,"k":"ss","i":218,"lo":8811,"hi":8890},
      {"s":8,"k":"ss","i":222,"lo":8694,"hi":8797},
      {"s":8,"k":"ss","i":226,"lo":8626,"hi":8718},
      {"s":8,"k":"ss","i":228,"lo":8630,"hi":8660},
      {"s":9,"k":"or","i":206,"lo":8940,"hi":8988},
      {"s":9,"k":"or","i":209,"lo":8934,"hi":8982},
      {"s":9,"k":"or","i":214,"lo":8879,"hi":8934},
      {"s":9,"k":"or","i":218,"lo":8855,"hi":8870},
      {"s":10,"k":"sd","i":228,"lo":8630,"hi":8660},
      {"s":10,"k":"sd","i":230,"lo":8690,"hi":8720},
      {"s":10,"k":"sd","i":231,"lo":8718,"hi":8753},
      {"s":10,"k":"sd","i":236,"lo":8777,"hi":8811},
      {"s":10,"k":"sd","i":240,"lo":8787,"hi":8831},
      {"s":11,"k":"ss","i":244,"lo":8780,"hi":8800},
      {"s":11,"k":"ss","i":251,"lo":8735,"hi":8775},
      {"s":11,"k":"ss","i":258,"lo":8708,"hi":8750},
      {"s":11,"k":"ss","i":265,"lo":8684,"hi":8718},
      {"s":11,"k":"ss","i":271,"lo":8675,"hi":8705},
      {"s":11,"k":"ss","i":278,"lo":8680,"hi":8700},
      {"s":12,"k":"or","i":240,"lo":8787,"hi":8831},
      {"s":12,"k":"or","i":245,"lo":8770,"hi":8814},
      {"s":12,"k":"or","i":251,"lo":8763,"hi":8782},
      {"s":12,"k":"or","i":253,"lo":8765,"hi":8770},
      {"s":13,"k":"sd","i":278,"lo":8729,"hi":8753},
      {"s":13,"k":"sd","i":287,"lo":8753,"hi":8770},
      {"s":13,"k":"sd","i":296,"lo":8770,"hi":8787},
      {"s":13,"k":"sd","i":307,"lo":8787,"hi":8811},
      {"s":13,"k":"sd","i":312,"lo":8811,"hi":8855},
      {"s":13,"k":"sd","i":316,"lo":8845,"hi":8934},
      {"s":13,"k":"sd","i":321,"lo":8934,"hi":8985},
      {"s":13,"k":"sd","i":327.6,"lo":8924,"hi":8992}
    ],
    "zones": [
      {"i0":47.6,"i1":133.8,"lo":8622,"hi":8645,"k":"sd"},
      {"i0":80.5,"i1":133,"lo":8728,"hi":8740,"k":"sd"},
      {"i0":137,"i1":217,"lo":8547,"hi":8562,"k":"sd"},
      {"i0":138.3,"i1":220,"lo":8383,"hi":8457,"k":"sd"},
      {"i0":220,"i1":327.6,"lo":8262,"hi":8379,"k":"sd"},
      {"i0":261.4,"i1":327.6,"lo":8485,"hi":8561,"k":"sd"},
      {"i0":286.2,"i1":327.6,"lo":8656,"hi":8708,"k":"sd"},
      {"i0":316,"i1":327.6,"lo":8924,"hi":8992,"k":"sd"},
      {"i0":229.7,"i1":309.7,"lo":8984,"hi":9022,"k":"ss"},
      {"i0":292,"i1":307,"lo":8855,"hi":8872,"k":"ss"}
    ],
    "pts": [
      {"i0":-0.7,"i1":47,"v":8618,"k":"s"},
      {"i0":21,"i1":47,"v":8643,"k":"s"},
      {"i0":48,"i1":60,"v":8777,"k":"s"},
      {"i0":74,"i1":112,"v":9058,"k":"s"},
      {"i0":112,"i1":202,"v":9118,"k":"s"},
      {"i0":116,"i1":202,"v":9086,"k":"s"},
      {"i0":130,"i1":175,"v":8874,"k":"s"},
      {"i0":160,"i1":171,"v":8806,"k":"s"},
      {"i0":180,"i1":192,"v":8979,"k":"s"},
      {"i0":181,"i1":192,"v":8944,"k":"s"},
      {"i0":205,"i1":316,"v":9201,"k":"s"},
      {"i0":212,"i1":229,"v":8772,"k":"s"},
      {"i0":216,"i1":228,"v":8652,"k":"s"},
      {"i0":222,"i1":228,"v":8565,"k":"s"},
      {"i0":251,"i1":278,"v":8888,"k":"s"},
      {"i0":269,"i1":276,"v":8811,"k":"s"},
      {"i0":229.7,"i1":309.7,"v":9022,"k":"s"},
      {"i0":229.7,"i1":309.7,"v":8984,"k":"s"},
      {"i0":292,"i1":307,"v":8872,"k":"s"},
      {"i0":307,"i1":309,"v":8927,"k":"s"},
      {"i0":-0.7,"i1":327.6,"v":8017,"k":"d"},
      {"i0":-0.7,"i1":327.6,"v":8141,"k":"d"},
      {"i0":-0.7,"i1":220,"v":8284,"k":"d"},
      {"i0":-0.7,"i1":139,"v":8421,"k":"d"},
      {"i0":-0.7,"i1":137,"v":8546,"k":"d"},
      {"i0":60,"i1":79,"v":8766,"k":"d"},
      {"i0":70,"i1":79,"v":8862,"k":"d"},
      {"i0":226,"i1":240,"v":8763,"k":"d"},
      {"i0":232,"i1":240,"v":8893,"k":"d"},
      {"i0":246,"i1":256,"v":8626,"k":"d"}
    ],
    "lbl": [
      {"i":7.6,"v":8263,"t":"8284"},
      {"i":15.5,"v":8359,"t":"8380"},
      {"i":20.3,"v":8657,"t":"8640"},
      {"i":28.6,"v":8400,"t":"8421"},
      {"i":34.5,"v":8493,"t":"8514"},
      {"i":47.6,"v":8524,"t":"8544"},
      {"i":47.6,"v":8797,"t":"8777"},
      {"i":59.3,"v":8606,"t":"8630-43"},
      {"i":73.8,"v":9071,"t":"9055"},
      {"i":85,"v":8708,"t":"8731-38"},
      {"i":118,"v":9132,"t":"9110-16"},
      {"i":127,"v":8712,"t":"8733"},
      {"i":141.7,"v":8674,"t":"8650"},
      {"i":142.4,"v":8366,"t":"8383-8457"},
      {"i":153.8,"v":8725,"t":"8702"},
      {"i":156.6,"v":8523,"t":"8547-62"},
      {"i":160.3,"v":8824,"t":"8806"},
      {"i":169.7,"v":8653,"t":"8675-83"},
      {"i":182.8,"v":8995,"t":"8944-79"},
      {"i":202,"v":8965,"t":"8987"},
      {"i":206,"v":9221,"t":"9201"},
      {"i":214.8,"v":8787,"t":"8760"},
      {"i":224.8,"v":8243,"t":"8262-8379"},
      {"i":236.6,"v":9040,"t":"8984-9022"},
      {"i":251,"v":8907,"t":"8888"},
      {"i":249,"v":8605,"t":"8621"},
      {"i":270.3,"v":8828,"t":"8811"},
      {"i":265.8,"v":8469,"t":"8485-8561"},
      {"i":293,"v":8636,"t":"8708-8656"},
      {"i":303.4,"v":8944,"t":"8927"},
      {"i":314.5,"v":8917,"t":"8940"}
    ],
    "legbox": [
      {"i0":1.7,"i1":7.6,"lo":9232,"hi":9266,"k":"sd"},
      {"i0":10.3,"i1":16.2,"lo":9232,"hi":9266,"k":"ld"},
      {"i0":1.7,"i1":7.6,"lo":9187,"hi":9221,"k":"ss"},
      {"i0":10.3,"i1":16.2,"lo":9187,"hi":9221,"k":"ls"}
    ],
    "legln": [
      {"i0":1.7,"i1":16.2,"v":9160,"k":"d"},
      {"i0":1.7,"i1":16.2,"v":9116,"k":"s"}
    ],
    "legtx": [
      {"i":17.9,"v":9249,"t":"Short-","k":"sd"},
      {"i":29.0,"v":9249,"t":"/","k":"tx"},
      {"i":30.9,"v":9249,"t":"Long","k":"ld"},
      {"i":39.8,"v":9249,"t":"-term demand zone","k":"tx"},
      {"i":17.9,"v":9204,"t":"Short-","k":"ss"},
      {"i":29.0,"v":9204,"t":"/","k":"tx"},
      {"i":30.9,"v":9204,"t":"Long","k":"ls"},
      {"i":39.8,"v":9204,"t":"-term supply zone","k":"tx"},
      {"i":17.9,"v":9160,"t":"Demand point","k":"tx"},
      {"i":17.9,"v":9116,"t":"Supply point","k":"tx"}
    ],
    "otrma": [
      {"i":0,"m":22},{"i":35,"m":22},{"i":44,"m":15.5},{"i":100,"m":15},{"i":140,"m":16},
      {"i":165,"m":15},{"i":200,"m":16},{"i":228,"m":17},{"i":231,"m":24},{"i":285,"m":24},
      {"i":292,"m":20},{"i":316,"m":20}
    ],
    "volma": [
      {"i":0,"m":810},{"i":28,"m":810},{"i":45,"m":690},{"i":92,"m":680},{"i":95,"m":720},
      {"i":155,"m":720},{"i":163,"m":615},{"i":190,"m":615},{"i":205,"m":680},{"i":218,"m":690},
      {"i":224,"m":760},{"i":286,"m":760},{"i":292,"m":695},{"i":316,"m":695}
    ]
  },
  "bounds": "flush",
  "spacing": 15,
  "resolve": {"scale": {"x": "independent", "y": "independent", "color": "independent"}},
  "vconcat": [
    {
      "width": 952,
      "height": 404,
      "layer": [
        {
          "data": {"name": "lt"},
          "mark": {"type": "area", "interpolate": "monotone"},
          "encoding": {
            "x": {"field": "i", "type": "quantitative", "scale": {"domain": [-0.7, 327.6], "nice": false, "zero": false, "padding": 0},
              "axis": {"orient": "bottom", "values": [14.5, 34.8, 57.9, 79, 101, 124.1, 143.8, 165.2, 185.2, 205.2, 227.6, 247.2, 268.3, 289.3, 312.8],
                "labelExpr": "['Jun','Jul','Aug','Sep','Oct','Nov','Dec','2026','Feb','Mar','Apr','May','Jun','Jul','Aug'][indexof([14.5,34.8,57.9,79,101,124.1,143.8,165.2,185.2,205.2,227.6,247.2,268.3,289.3,312.8], datum.value)]",
                "labelAlign": "left", "labelBaseline": "top", "labelOffset": 2, "labelPadding": 0, "tickSize": 3, "domainColor": "#999"}},
            "y": {"field": "lo", "type": "quantitative", "scale": {"domain": [7990, 9368], "nice": false, "zero": false, "padding": 0},
              "axis": {"orient": "right", "values": [8000, 8100, 8200, 8300, 8400, 8500, 8600, 8700, 8800, 8900, 9000, 9100, 9200, 9300], "tickCount": 14, "format": ",.0f", "labelAlign": "right", "labelPadding": 43, "tickSize": 3, "domainColor": "#999"}},
            "y2": {"field": "hi"},
            "detail": {"field": "s"},
            "color": {"field": "k", "type": "nominal", "scale": {"domain": ["sd", "ld", "ss", "ls", "or", "tx"], "range": ["#12ee12", "#3caf72", "#ffb3b3", "#f87272", "#f4712f", "#000000"]}, "legend": null}
          }
        },
        {
          "data": {"name": "zones"},
          "mark": {"type": "rect"},
          "encoding": {
            "x": {"field": "i0", "type": "quantitative"},
            "x2": {"field": "i1"},
            "y": {"field": "lo", "type": "quantitative"},
            "y2": {"field": "hi"},
            "color": {"field": "k", "type": "nominal", "scale": {"domain": ["sd", "ld", "ss", "ls", "or", "tx"], "range": ["#12ee12", "#3caf72", "#ffb3b3", "#f87272", "#f4712f", "#000000"]}, "legend": null}
          }
        },
        {
          "data": {"name": "st"},
          "transform": [{"filter": "datum.k == 'ss'"}],
          "mark": {"type": "area", "interpolate": "monotone"},
          "encoding": {
            "x": {"field": "i", "type": "quantitative"},
            "y": {"field": "lo", "type": "quantitative"},
            "y2": {"field": "hi"},
            "detail": {"field": "s"},
            "color": {"field": "k", "type": "nominal", "scale": {"domain": ["sd", "ld", "ss", "ls", "or", "tx"], "range": ["#12ee12", "#3caf72", "#ffb3b3", "#f87272", "#f4712f", "#000000"]}, "legend": null}
          }
        },
        {
          "data": {"name": "st"},
          "transform": [{"filter": "datum.k != 'ss'"}],
          "mark": {"type": "area", "interpolate": "monotone"},
          "encoding": {
            "x": {"field": "i", "type": "quantitative"},
            "y": {"field": "lo", "type": "quantitative"},
            "y2": {"field": "hi"},
            "detail": {"field": "s"},
            "color": {"field": "k", "type": "nominal", "scale": {"domain": ["sd", "ld", "ss", "ls", "or", "tx"], "range": ["#12ee12", "#3caf72", "#ffb3b3", "#f87272", "#f4712f", "#000000"]}, "legend": null}
          }
        },
        {
          "data": {"name": "pts"},
          "mark": {"type": "rule", "strokeWidth": 1, "strokeDash": [2, 2]},
          "encoding": {
            "x": {"field": "i0", "type": "quantitative"},
            "x2": {"field": "i1"},
            "y": {"field": "v", "type": "quantitative"},
            "color": {"condition": {"test": "datum.k == 's'", "value": "#ff3030"}, "value": "#33dd33"}
          }
        },
        {
          "data": {"name": "bars"},
          "mark": {"type": "rule", "strokeWidth": 1},
          "encoding": {
            "x": {"field": "i", "type": "quantitative"},
            "y": {"field": "l", "type": "quantitative"},
            "y2": {"field": "h"},
            "color": {"condition": {"test": "datum.c < datum.o", "value": "#000000"}, "value": "#666666"}
          }
        },
        {
          "data": {"name": "bars"},
          "mark": {"type": "bar", "size": 2.2, "strokeWidth": 0.6},
          "encoding": {
            "x": {"field": "i", "type": "quantitative"},
            "y": {"field": "o", "type": "quantitative"},
            "y2": {"field": "c"},
            "fill": {"condition": {"test": "datum.c < datum.o", "value": "#000000"}, "value": "#dddddd"},
            "stroke": {"condition": {"test": "datum.c < datum.o", "value": "#000000"}, "value": "#555555"}
          }
        },
        {
          "data": {"name": "lbl"},
          "mark": {"type": "text", "font": "Liberation Sans", "fontWeight": "bold", "fontSize": 10.5, "color": "#111111", "align": "center", "baseline": "middle"},
          "encoding": {
            "x": {"field": "i", "type": "quantitative"},
            "y": {"field": "v", "type": "quantitative"},
            "text": {"field": "t"}
          }
        },
        {
          "data": {"name": "legbox"},
          "mark": {"type": "rect"},
          "encoding": {
            "x": {"field": "i0", "type": "quantitative"},
            "x2": {"field": "i1"},
            "y": {"field": "lo", "type": "quantitative"},
            "y2": {"field": "hi"},
            "color": {"field": "k", "type": "nominal", "scale": {"domain": ["sd", "ld", "ss", "ls", "or", "tx"], "range": ["#12ee12", "#3caf72", "#ffb3b3", "#f87272", "#f4712f", "#000000"]}, "legend": null}
          }
        },
        {
          "data": {"name": "legln"},
          "mark": {"type": "rule", "strokeWidth": 2, "strokeDash": [2, 2]},
          "encoding": {
            "x": {"field": "i0", "type": "quantitative"},
            "x2": {"field": "i1"},
            "y": {"field": "v", "type": "quantitative"},
            "color": {"condition": {"test": "datum.k == 's'", "value": "#ff2020"}, "value": "#22dd22"}
          }
        },
        {
          "data": {"name": "legtx"},
          "mark": {"type": "text", "font": "Liberation Sans", "fontWeight": "bold", "fontSize": 10.5, "align": "left", "baseline": "middle"},
          "encoding": {
            "x": {"field": "i", "type": "quantitative"},
            "y": {"field": "v", "type": "quantitative"},
            "text": {"field": "t"},
            "color": {"field": "k", "type": "nominal", "scale": {"domain": ["sd", "ld", "ss", "ls", "or", "tx"], "range": ["#2ce02c", "#3cb878", "#ffb0b0", "#f86868", "#f4712f", "#000000"]}, "legend": null}
          }
        },
        {
          "data": {"values": [{}]},
          "mark": {"type": "text", "text": "S&P/ASX 200 Index (XJO) - Daily", "font": "Liberation Sans", "fontWeight": "bold", "fontSize": 10.5, "color": "#111111", "align": "left", "baseline": "middle"},
          "encoding": {
            "x": {"datum": -0.2},
            "y": {"datum": 9345}
          }
        }
      ]
    },
    {
      "bounds": "flush",
      "spacing": 0,
      "resolve": {"scale": {"x": "independent", "y": "independent"}},
      "vconcat": [
        {
          "width": 952,
          "height": 71,
          "layer": [
            {
              "data": {"name": "bars"},
              "mark": {"type": "rule", "strokeWidth": 1, "color": "#ff1a1a"},
              "encoding": {
                "x": {"field": "i", "type": "quantitative", "scale": {"domain": [-0.7, 327.6], "nice": false, "zero": false, "padding": 0},
                  "axis": {"orient": "top", "labels": false, "ticks": false, "domainColor": "#555", "domainWidth": 1.5}},
                "y": {"field": "r", "type": "quantitative", "scale": {"domain": [0, 100], "nice": false, "padding": 0},
                  "axis": {"orient": "right", "labels": false, "ticks": false, "domainColor": "#999"}},
                "y2": {"datum": 0}
              }
            },
            {
              "data": {"name": "otrma"},
              "mark": {"type": "line", "color": "#ff1a1a", "strokeWidth": 1.3, "interpolate": "monotone"},
              "encoding": {
                "x": {"field": "i", "type": "quantitative"},
                "y": {"field": "m", "type": "quantitative"}
              }
            },
            {
              "data": {"values": [{}]},
              "mark": {"type": "text", "text": "OTR", "font": "Liberation Sans", "fontWeight": "bold", "fontSize": 11, "color": "#ee1111", "align": "left", "baseline": "middle"},
              "encoding": {
                "x": {"datum": 0.3},
                "y": {"datum": 87}
              }
            }
          ]
        },
        {
          "width": 952,
          "height": 72,
          "layer": [
            {
              "data": {"name": "bars"},
              "mark": {"type": "rule", "strokeWidth": 1, "color": "#8686c6"},
              "encoding": {
                "x": {"field": "i", "type": "quantitative", "scale": {"domain": [-0.7, 327.6], "nice": false, "zero": false, "padding": 0},
                  "axis": {"orient": "top", "labels": false, "ticks": false, "domainColor": "#555", "domainWidth": 1.5}},
                "y": {"field": "v", "type": "quantitative", "scale": {"domain": [0, 2880], "nice": false, "padding": 0},
                  "axis": {"orient": "right", "values": [1000, 2000], "labelExpr": "format(datum.value, ',') + 'M'", "labelAlign": "right", "labelPadding": 43, "tickSize": 3, "domainColor": "#999"}},
                "y2": {"datum": 0}
              }
            },
            {
              "data": {"name": "volma"},
              "mark": {"type": "line", "color": "#ff1a1a", "strokeWidth": 1.3, "interpolate": "monotone"},
              "encoding": {
                "x": {"field": "i", "type": "quantitative"},
                "y": {"field": "m", "type": "quantitative"}
              }
            },
            {
              "data": {"values": [{}]},
              "mark": {"type": "text", "text": "Volume", "font": "Liberation Sans", "fontWeight": "bold", "fontSize": 11, "color": "#7d7dbd", "align": "left", "baseline": "middle"},
              "encoding": {
                "x": {"datum": 0.3},
                "y": {"datum": 2620}
              }
            }
          ]
        }
      ]
    }
  ]
}
